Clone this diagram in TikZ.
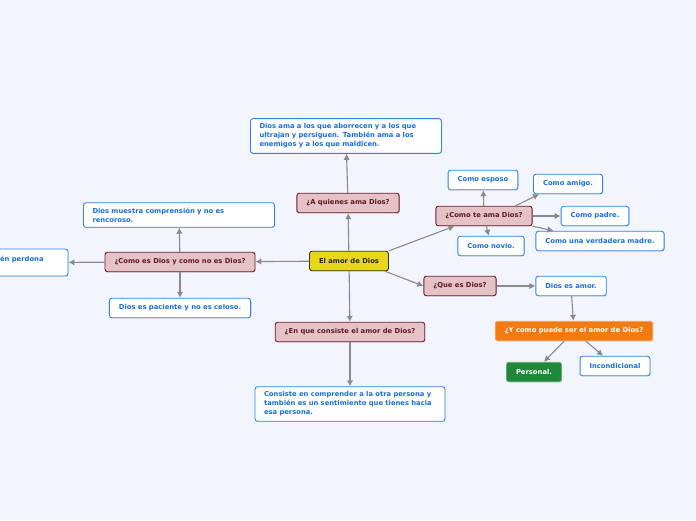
\documentclass[tikz,border=0pt]{standalone}
\usepackage{fontspec}
\setmainfont{DejaVu Sans}
\usetikzlibrary{shadows,arrows.meta}
\definecolor{fondo}{HTML}{F2F5FD}
\definecolor{rosa}{HTML}{E4C2C6}
\definecolor{granate}{HTML}{6B1C2B}
\definecolor{amarillo}{HTML}{E6D71B}
\definecolor{naranja}{HTML}{F07B12}
\definecolor{verde}{HTML}{1E8838}
\definecolor{azul}{HTML}{2D84E6}
\definecolor{azultexto}{HTML}{1A6FD6}
\definecolor{gris}{HTML}{8A8A8A}
\begin{document}
\begin{tikzpicture}[x=1pt,y=-1pt,
  font=\fontsize{6.8}{9}\selectfont\bfseries,
  caja/.style={rounded corners=2.5pt,line width=0.9pt,minimum height=19.5pt,inner xsep=9.5pt,
    drop shadow={shadow xshift=0.7pt,shadow yshift=-0.9pt,opacity=0.2}},
  raiz/.style={caja,draw=black!80,fill=amarillo,text=black!85},
  pregunta/.style={caja,draw=granate,fill=rosa,text=granate!90!black},
  respuesta/.style={caja,draw=azul,fill=white,text=azultexto},
  texto/.style={respuesta,align=left,inner xsep=9pt,inner ysep=5pt},
  flecha/.style={-{Latex[length=6pt,width=6.5pt]},draw=gris,line width=1.1pt}]

\useasboundingbox[fill=fondo] (0,0) rectangle (696,520);

% Centro
\node[raiz] (amor) at (349,261) {El amor de Dios};

% Arriba
\node[pregunta] (quienes) at (348,203) {¿A quienes ama Dios?};
\node[texto,text width=173pt] (aborrecen) at (346,136) {Dios ama a los que aborrecen y a los que\\ultrajan y persiguen. También ama a los\\enemigos y a los que maldicen.};

% Derecha
\node[pregunta] (comote) at (484,216) {¿Como te ama Dios?};
\node[respuesta] (esposo) at (483,180) {Como esposo};
\node[respuesta] (amigo) at (568,184) {Como amigo.};
\node[respuesta] (padre) at (595,216) {Como padre.};
\node[respuesta] (madre) at (600,241) {Como una verdadera madre.};
\node[respuesta] (novio) at (491,246) {Como novio.};

\node[pregunta] (quees) at (460,286) {¿Que es Dios?};
\node[respuesta] (esamor) at (571,286) {Dios es amor.};
\node[caja,draw=naranja!70!white,fill=naranja,text=white] (puede) at (574,331) {¿Y como puede ser el amor de Dios?};
\node[caja,draw=verde!70!white,fill=verde,text=white] (personal) at (534,372) {Personal.};
\node[respuesta] (incond) at (615,366) {Incondicional};

% Abajo
\node[pregunta] (consiste) at (350,332) {¿En que consiste el amor de Dios?};
\node[texto,text width=172pt] (comprender) at (350,404) {Consiste en comprender a la otra persona y\\también es un sentimiento que tienes hacia\\esa persona.};

% Izquierda
\node[pregunta] (comoes) at (180,262) {¿Como es Dios y como no es Dios?};
\node[texto,text width=173pt] (rencoroso) at (179,215) {Dios muestra comprensión y no es\\rencoroso.};
\node[respuesta] (paciente) at (180,308) {Dios es paciente y no es celoso.};
\node[respuesta,align=left,text width=100pt,inner xsep=9pt,minimum height=27pt,text depth=8pt] (perdona) at (9,262.5) {Dios también perdona};

% Flechas
\draw[flecha] (amor) -- (quienes);
\draw[flecha] (quienes) -- (aborrecen);
\draw[flecha] (amor.north east) -- ([xshift=19pt]comote.south west);
\draw[flecha] (comote) -- (esposo);
\draw[flecha] ([xshift=-17pt]comote.north east) -- ([xshift=6pt]amigo.south west);
\draw[flecha] (comote) -- (padre);
\draw[flecha] (comote.south east) -- ([xshift=18pt]madre.north west);
\draw[flecha] (comote) -- (novio);
\draw[flecha] ([xshift=-4pt]amor.south east) -- (quees.west);
\draw[flecha] (quees) -- (esamor);
\draw[flecha] (esamor) -- (puede);
\draw[flecha] (puede) -- (personal);
\draw[flecha] (puede) -- (incond);
\draw[flecha] (amor) -- (consiste);
\draw[flecha] (consiste) -- (comprender);
\draw[flecha] (amor) -- (comoes);
\draw[flecha] (comoes) -- (rencoroso);
\draw[flecha] (comoes) -- (paciente);
\draw[flecha] (comoes) -- (perdona);

\end{tikzpicture}
\end{document}
